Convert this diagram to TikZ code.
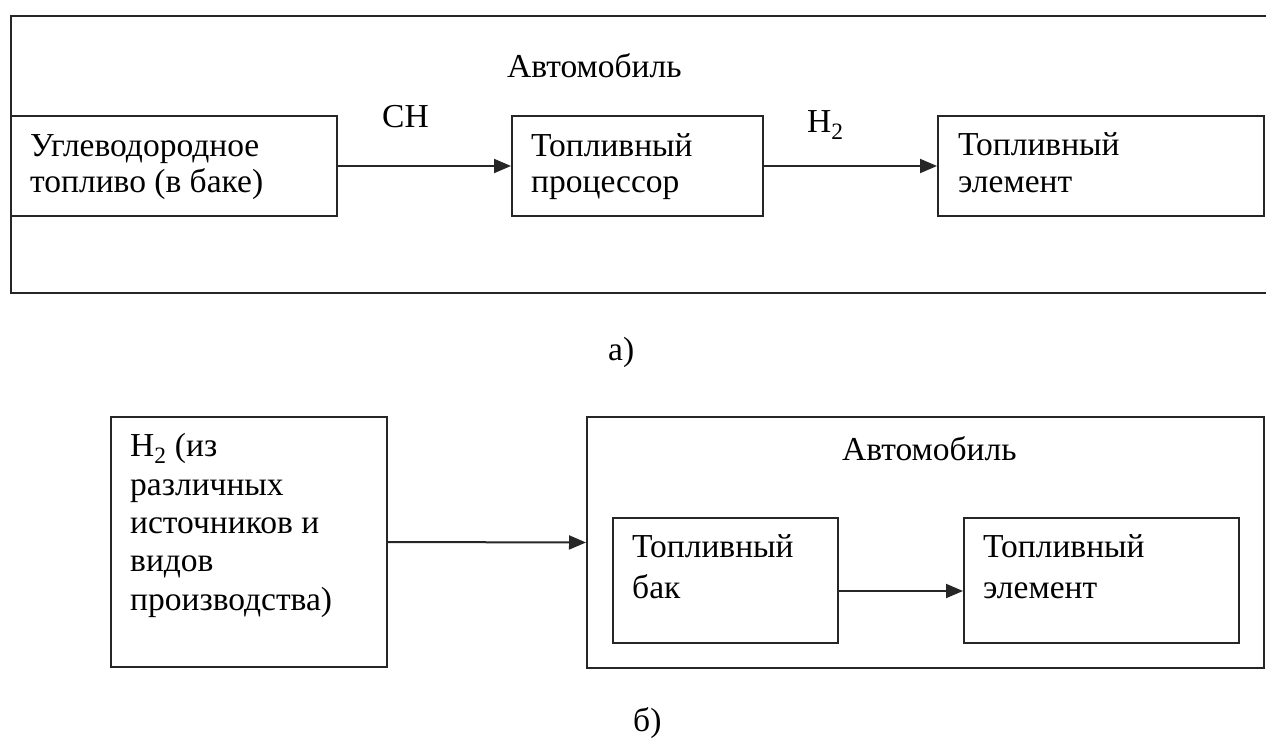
\documentclass[tikz,border=0pt]{standalone}
\usepackage{fontspec}
\setmainfont{Liberation Serif}
\usetikzlibrary{arrows.meta,calc}
\begin{document}
\begin{tikzpicture}[x=1pt,y=-1pt,
  box/.style={draw=black!85, line width=2pt, anchor=north west, inner sep=0pt},
  txt/.style={anchor=base west, align=left, inner sep=0pt, font=\fontsize{33.5}{#1}\selectfont},
  txt/.default=38,
  arr/.style={draw=black!85, line width=2pt, -{Triangle[length=17pt,width=14pt]}}]
\clip (0,0) rectangle (1266,743);
\fill[white] (0,0) rectangle (1266,743);
% ---- a) ----
\node[box, minimum width=1290pt, minimum height=277pt] (cara) at (10,15) {};
\node[box, minimum width=326pt, minimum height=100pt] (fuel) at (10,115) {};
\node[box, minimum width=251pt, minimum height=100pt] (proc) at (511,115) {};
\node[box, minimum width=326pt, minimum height=100pt] (cella) at (937,115) {};
% multi-line text nodes: base anchor is the baseline of the last line
\node[txt=36] (tfuel) at (30,193) {Углеводородное\\топливо (в баке)};
\node[txt=36] (tproc) at (531,193) {Топливный\\процессор};
\node[txt=37] (tcella) at (958,193) {Топливный\\элемент};
\node[txt] (lcara) at (507,78) {Автомобиль};
\node[txt] (lch) at (382,128) {CH};
\node[txt] (lh2) at (807,133) {H\textsubscript{2}};
\draw[arr] (fuel.east) -- (proc.west);
\draw[arr] (proc.east) -- (cella.west);
\node[txt] (capa) at (608,360) {а)};
% ---- b) ----
\node[box, minimum width=276pt, minimum height=250pt] (h2src) at (110,416) {};
\node[box, minimum width=677pt, minimum height=251pt] (carb) at (586,416) {};
\node[box, minimum width=225pt, minimum height=125pt] (tank) at (612,517) {};
\node[box, minimum width=275pt, minimum height=125pt] (cellb) at (963,517) {};
\node[txt=38.3] (th2) at (130,610) {H\textsubscript{2} (из\\различных\\источников и\\видов\\производства)};
\node[txt] (lcarb) at (842,460) {Автомобиль};
\node[txt=41] (ttank) at (632,598) {Топливный\\бак};
\node[txt=41] (tcellb) at (983,598) {Топливный\\элемент};
\coordinate (ya) at (0,591);
\draw[arr] (h2src.east) -- (carb.west);
\draw[arr] (tank.east |- ya) -- (cellb.west |- ya);
\node[txt] (capb) at (633,731) {б)};
\end{tikzpicture}
\end{document}
